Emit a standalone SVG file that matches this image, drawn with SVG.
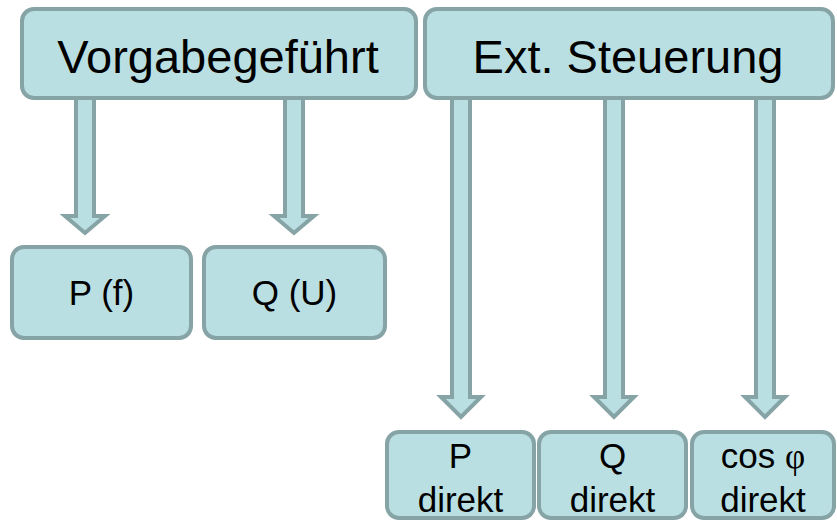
<svg xmlns="http://www.w3.org/2000/svg" width="837" height="523" viewBox="0 0 837 523">
<defs>
<style>
.box{fill:#B9DFE3;stroke:#86A3A5;stroke-width:4}
.arr{fill:#B9DFE3;stroke:#86A3A5;stroke-width:4;stroke-linejoin:miter}
.t{font-family:"Liberation Sans",Arial,sans-serif;fill:#000;text-anchor:middle}
.big{font-size:47px}
.mid{font-size:35px}
.phi{font-family:"Liberation Serif","Times New Roman",serif}
</style>
</defs>
<rect width="837" height="523" fill="#fff"/>
<g id="connectors">
<path class="arr" d="M76,95 H94 V216 H105 L85,233 L65,216 H76 Z"/>
<path class="arr" d="M285,95 H303 V216 H314 L294,233 L274,216 H285 Z"/>
<path class="arr" d="M452,95 H470 V397 H481 L461,417 L441,397 H452 Z"/>
<path class="arr" d="M605,95 H623 V397 H634 L614,417 L594,397 H605 Z"/>
<path class="arr" d="M756,95 H774 V397 H785 L765,417 L745,397 H756 Z"/>
</g>
<g id="vorgabe">
<rect class="box" x="22" y="9" width="394" height="89" rx="12"/>
<text class="t big" x="218" y="73">Vorgabegeführt</text>
</g>
<g id="ext">
<rect class="box" x="425" y="9" width="408" height="89" rx="12"/>
<text class="t big" x="628" y="73">Ext. Steuerung</text>
</g>
<g id="pf">
<rect class="box" x="12" y="247" width="179" height="91" rx="12"/>
<text class="t mid" x="101.5" y="305">P (f)</text>
</g>
<g id="qu">
<rect class="box" x="204" y="247" width="181" height="91" rx="12"/>
<text class="t mid" x="294.5" y="305">Q (U)</text>
</g>
<g id="pdirekt">
<rect class="box" x="387" y="432" width="147" height="86" rx="12"/>
<text class="t mid" x="460.5" y="468">P</text>
<text class="t mid" x="460.5" y="512">direkt</text>
</g>
<g id="qdirekt">
<rect class="box" x="539" y="432" width="147" height="86" rx="12"/>
<text class="t mid" x="612.5" y="468">Q</text>
<text class="t mid" x="612.5" y="512">direkt</text>
</g>
<g id="cosdirekt">
<rect class="box" x="692" y="432" width="142" height="86" rx="12"/>
<text class="t mid" x="763" y="468">cos <tspan class="phi">φ</tspan></text>
<text class="t mid" x="763" y="512">direkt</text>
</g>
</svg>
